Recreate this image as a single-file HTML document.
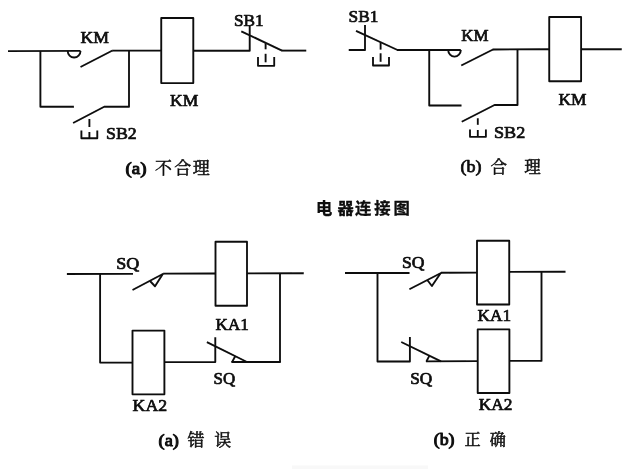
<!DOCTYPE html>
<html lang="zh"><head><meta charset="utf-8"><title>电器连接图</title>
<style>
html,body{margin:0;padding:0;background:#fff;}
body{width:640px;height:469px;overflow:hidden;font-family:"Liberation Serif",serif;}
svg{display:block;}
.w{fill:none;stroke:#0a0a0a;stroke-width:1.85;stroke-linecap:butt;stroke-linejoin:round;}
.t{font-family:"Liberation Serif",serif;fill:#0a0a0a;stroke:#0a0a0a;stroke-width:0.7;stroke-linejoin:round;}
.g{font-family:"Liberation Serif","Noto Serif CJK SC",serif;fill:#0a0a0a;stroke:#0a0a0a;stroke-width:0.5;stroke-linejoin:round;}
.gb{font-family:"Liberation Sans","Noto Sans CJK SC",sans-serif;font-weight:bold;stroke-width:0.3;}
.h{fill:#000;fill-opacity:0;font-family:"Liberation Serif",serif;font-size:10px;}
</style></head><body>
<svg width="640" height="469" viewBox="0 0 640 469">
<defs><filter id="b" x="-2%" y="-2%" width="104%" height="104%"><feGaussianBlur stdDeviation="0.45"/></filter></defs>
<rect width="640" height="469" fill="#fff"/>
<rect x="292" y="465.5" width="136" height="3.5" fill="#f8f8f8" filter="url(#b)"/>
<g filter="url(#b)">
<g class="w">
<line x1="8" y1="51.2" x2="80.5" y2="50.9"/>
<line x1="80.5" y1="67" x2="112.5" y2="50.5"/>
<line x1="112.2" y1="50.6" x2="161.25" y2="50.6"/>
<line x1="89.4" y1="119" x2="89.4" y2="127"/>
<line x1="89.4" y1="132" x2="89.4" y2="138.2"/>
<line x1="241.3" y1="31.3" x2="282" y2="50.6"/>
<line x1="281.5" y1="50.6" x2="306.25" y2="50.6"/>
<line x1="265.6" y1="43.3" x2="265.6" y2="49.3"/>
<line x1="265.6" y1="53.8" x2="265.6" y2="62.3"/>
<line x1="356" y1="30.8" x2="397.5" y2="50"/>
<line x1="397" y1="50" x2="460.8" y2="50"/>
<line x1="380.6" y1="42.6" x2="380.6" y2="49.6"/>
<line x1="380.6" y1="53.3" x2="380.6" y2="61.8"/>
<line x1="461.25" y1="65.5" x2="493" y2="49.5"/>
<line x1="492.6" y1="49.5" x2="549.25" y2="49.25"/>
<line x1="477.8" y1="118.3" x2="477.8" y2="124.8"/>
<line x1="477.8" y1="130" x2="477.8" y2="136.8"/>
<line x1="581.1" y1="49.25" x2="621.75" y2="49.25"/>
<line x1="66.9" y1="274" x2="133" y2="273.9"/>
<line x1="132.5" y1="290" x2="163.75" y2="273.5"/>
<line x1="163.3" y1="273.6" x2="215.5" y2="273.5"/>
<line x1="247" y1="273.4" x2="303.75" y2="273.2"/>
<line x1="280" y1="273.3" x2="280" y2="362"/>
<line x1="206.9" y1="342.2" x2="247" y2="362"/>
<line x1="231.5" y1="362" x2="280.8" y2="362"/>
<line x1="231.9" y1="362.4" x2="235.2" y2="356.2"/>
<line x1="345" y1="273" x2="409.5" y2="273"/>
<line x1="401.25" y1="342" x2="441" y2="361.3"/>
<line x1="426" y1="361.3" x2="477.5" y2="361.1"/>
<line x1="426.3" y1="361.7" x2="429.3" y2="355.8"/>
<line x1="409.4" y1="289.2" x2="441.5" y2="272.7"/>
<line x1="441" y1="272.7" x2="477" y2="272.6"/>
<line x1="509.25" y1="271.9" x2="565.5" y2="271.75"/>
<line x1="541.5" y1="272" x2="541.5" y2="361.5"/>
<line x1="509.4" y1="360.9" x2="541.5" y2="360.9"/>
<path d="M67.7,50.9 A6.4,6.6 0 0 0 80.5,50.9"/>
<path d="M40.4,51 L40.4,106.7 L73.9,106.7"/>
<path d="M129,50.5 L129,106.7 L104.2,106.7 L73.1,123"/>
<path d="M81.4,130.5 L81.4,138.2 L97.3,138.2 L97.3,130.5"/>
<path d="M193.3,50.7 L249.7,50.7 L249.7,26"/>
<path d="M258,57 L258,65.8 L274.2,65.8 L274.2,57"/>
<path d="M348.75,50 L365,50 L365,25"/>
<path d="M373,56.9 L373,65.5 L389,65.5 L389,56.9"/>
<path d="M448.2,50 A6.3,6.7 0 0 0 460.8,50"/>
<path d="M429.25,50 L429.25,105.5 L461.5,105.5"/>
<path d="M517.5,49.5 L517.5,105 L494.5,105 L461.75,121.75"/>
<path d="M470,129.5 L470,136.8 L485.9,136.8 L485.9,129.5"/>
<path d="M100.1,274 L100.1,362.6 L132.5,362.6"/>
<path d="M150,281.0 L155,286.25 L162.5,274.6"/>
<path d="M164.5,362.1 L215.3,362.1 L215.3,337.3"/>
<path d="M377.5,273 L377.5,361.5 L409.9,361.5 L409.9,336.9"/>
<path d="M427.3,280 L431.9,286 L440.4,273.6"/>
<rect x="161.25" y="18" width="32.05" height="65.1"/>
<rect x="549.25" y="17" width="31.85" height="64.25"/>
<rect x="215.5" y="241.75" width="31.5" height="64"/>
<rect x="132.5" y="330.6" width="31.9" height="63.7"/>
<rect x="477" y="240.75" width="32.25" height="63.75"/>
<rect x="477.7" y="329.3" width="31.7" height="63.7"/>
</g>
<g class="t">
<text x="80.5" y="43" font-size="17" textLength="28.5" lengthAdjust="spacingAndGlyphs">KM</text>
<text x="106" y="138.7" font-size="17" textLength="30.7" lengthAdjust="spacingAndGlyphs">SB2</text>
<text x="234" y="25.9" font-size="17" textLength="29.6" lengthAdjust="spacingAndGlyphs">SB1</text>
<text x="170" y="106.4" font-size="17" textLength="28.2" lengthAdjust="spacingAndGlyphs">KM</text>
<text x="348.5" y="21.5" font-size="17.3" textLength="29.9" lengthAdjust="spacingAndGlyphs">SB1</text>
<text x="461.3" y="41.2" font-size="17" textLength="27.3" lengthAdjust="spacingAndGlyphs">KM</text>
<text x="558.4" y="105.3" font-size="17" textLength="28" lengthAdjust="spacingAndGlyphs">KM</text>
<text x="494" y="137.6" font-size="17.3" textLength="31.2" lengthAdjust="spacingAndGlyphs">SB2</text>
<text x="116.25" y="268.75" font-size="17" textLength="23" lengthAdjust="spacingAndGlyphs">SQ</text>
<text x="215.6" y="330.2" font-size="17" textLength="33.2" lengthAdjust="spacingAndGlyphs">KA1</text>
<text x="132.6" y="410.8" font-size="17" textLength="34.5" lengthAdjust="spacingAndGlyphs">KA2</text>
<text x="213.6" y="384.1" font-size="17" textLength="21.6" lengthAdjust="spacingAndGlyphs">SQ</text>
<text x="402" y="267.5" font-size="17" textLength="22.5" lengthAdjust="spacingAndGlyphs">SQ</text>
<text x="477.5" y="320.5" font-size="17.3" textLength="33.6" lengthAdjust="spacingAndGlyphs">KA1</text>
<text x="478.75" y="409.7" font-size="17" textLength="33.75" lengthAdjust="spacingAndGlyphs">KA2</text>
<text x="410.3" y="383.8" font-size="17" textLength="22" lengthAdjust="spacingAndGlyphs">SQ</text>
<text x="125.5" y="173.6" font-size="17" stroke-width="1.0" textLength="21" lengthAdjust="spacingAndGlyphs">(a)</text>
<text x="460.5" y="172" font-size="17" stroke-width="0.75" textLength="21" lengthAdjust="spacingAndGlyphs">(b)</text>
<text x="158.6" y="445.5" font-size="17" stroke-width="1.0" textLength="20.3" lengthAdjust="spacingAndGlyphs">(a)</text>
<text x="433.75" y="444.8" font-size="17" stroke-width="1.0" textLength="20.75" lengthAdjust="spacingAndGlyphs">(b)</text>
</g>
<g class="g">
<text x="155.1 174.2 192.7" y="174.2" font-size="17">不合理</text>
<text x="490.6 524.3" y="172.8" font-size="16.5">合理</text>
<text x="187.4 214.2" y="445.8" font-size="17">错误</text>
<text x="464.5 489.8" y="445.1" font-size="16.2">正确</text>
<text class="gb" x="315.9 337.5 354.9 374.2 393.4" y="214.4" font-size="16.3">电器连接图</text>
</g>
</g>
<g class="h"><text x="154" y="174">不合理</text><text x="491" y="173">合 理</text><text x="318" y="215">电器连接图</text><text x="187" y="446">错 误</text><text x="465" y="445">正 确</text></g>
</svg>
</body></html>
